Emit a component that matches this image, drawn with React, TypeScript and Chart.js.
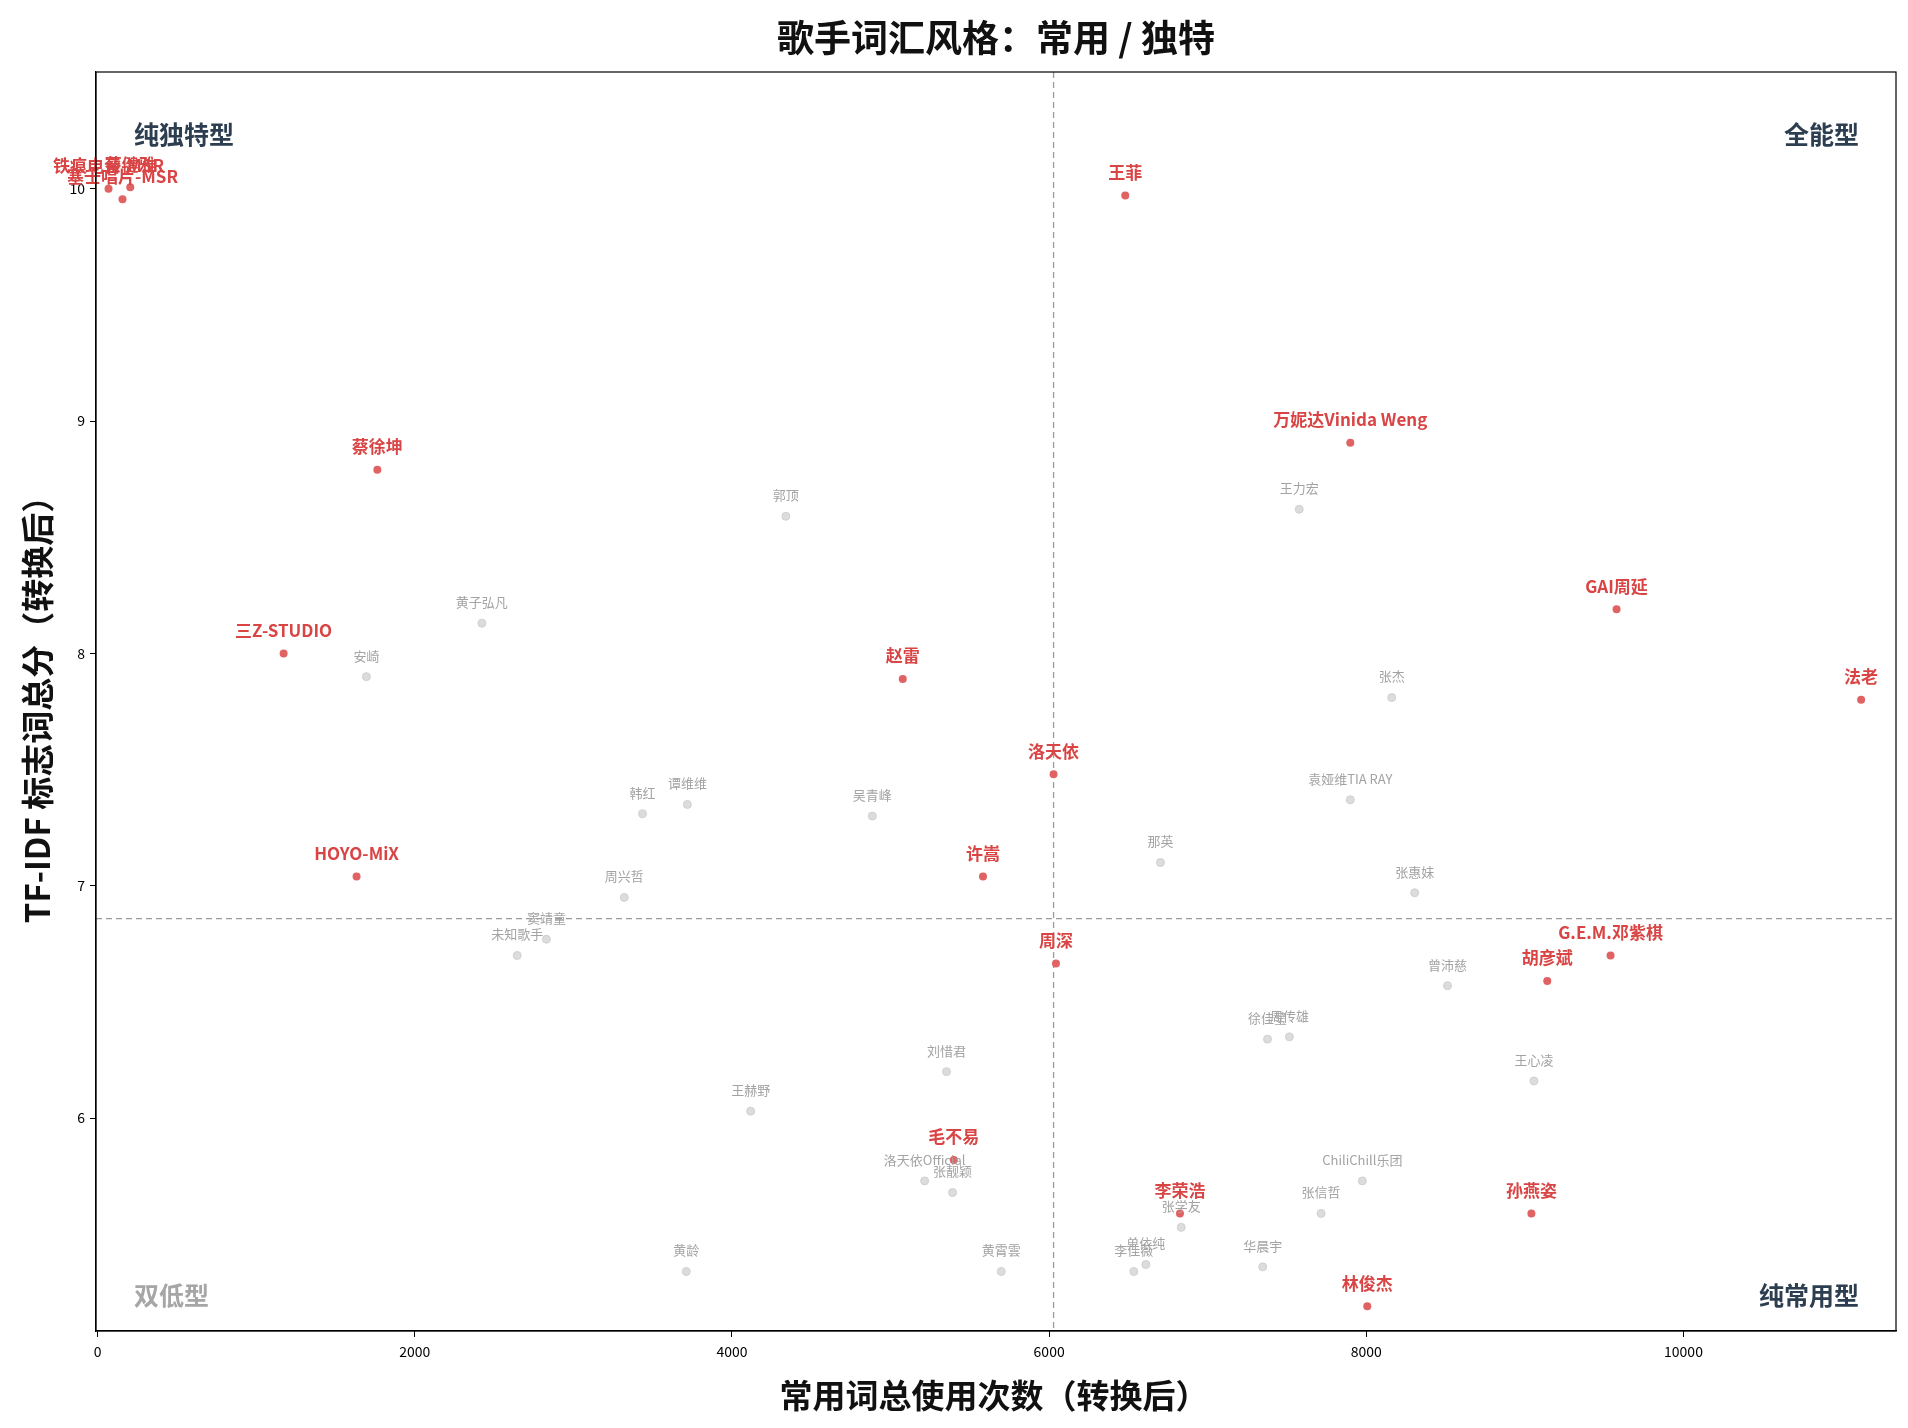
import React, { useEffect, useRef } from "react";
import { Chart, registerables } from "chart.js";

Chart.register(...registerables);

const TITLE = "歌手词汇风格：常用 / 独特";
const X_TITLE = "常用词总使用次数（转换后）";
const Y_TITLE = "TF-IDF 标志词总分（转换后）";

const xTicks = [0, 2000, 4000, 6000, 8000, 10000];
const yTicks = [6, 7, 8, 9, 10];

const X_MIN = -10;
const X_MAX = 11340;
const Y_MIN = 5.084;
const Y_MAX = 10.502;

const X_SPLIT = 6028;
const Y_SPLIT = 6.859;

// highlighted singers
const redNames = [
  "铁痕电音-MSR", "蔡健雅", "塞壬唱片-MSR", "王菲", "万妮达Vinida Weng", "蔡徐坤",
  "GAI周延", "三Z-STUDIO", "赵雷", "法老", "洛天依", "HOYO-MiX", "许嵩", "周深",
  "G.E.M.邓紫棋", "胡彦斌", "毛不易", "李荣浩", "孙燕姿", "林俊杰",
];
const redX = [
  69, 206, 157, 6480, 7899, 1764,
  9578, 1173, 5077, 11120, 6028, 1633, 5583, 6043,
  9540, 9141, 5399, 6825, 9041, 8006,
];
const redY = [
  10.0, 10.006, 9.954, 9.97, 8.906, 8.79,
  8.19, 8.0, 7.89, 7.8, 7.48, 7.04, 7.04, 6.665,
  6.7, 6.59, 5.82, 5.59, 5.59, 5.19,
];

// other singers
const grayNames = [
  "郭顶", "王力宏", "黄子弘凡", "安崎", "张杰", "袁娅维TIA RAY", "韩红", "谭维维",
  "吴青峰", "那英", "周兴哲", "张惠妹", "窦靖童", "未知歌手", "曾沛慈", "徐佳莹",
  "周传雄", "刘惜君", "王心凌", "王赫野", "洛天依Official", "ChiliChill乐团", "张靓颖",
  "张信哲", "张学友", "黄龄", "黄霄雲", "单依纯", "李佳薇", "华晨宇",
];
const grayX = [
  4340, 7577, 2423, 1695, 8160, 7899, 3436, 3719,
  4885, 6702, 3321, 8305, 2830, 2646, 8512, 7377,
  7515, 5353, 9057, 4118, 5215, 7975, 5391,
  7715, 6833, 3712, 5698, 6610, 6534, 7347,
];
const grayY = [
  8.59, 8.62, 8.13, 7.9, 7.81, 7.37, 7.31, 7.35,
  7.3, 7.1, 6.95, 6.97, 6.77, 6.7, 6.57, 6.34,
  6.35, 6.2, 6.16, 6.03, 5.73, 5.73, 5.68,
  5.59, 5.53, 5.34, 5.34, 5.37, 5.34, 5.36,
];

const quadrantLabels = ["纯独特型", "全能型", "双低型", "纯常用型"];

const FONT = '"Noto Sans CJK SC", "Noto Sans", sans-serif';

export default function App() {
  const ref = useRef<HTMLCanvasElement | null>(null);

  useEffect(() => {
    document.body.style.margin = "0";
    const canvas = ref.current;
    if (!canvas) return;

    const labelPlugin = {
      id: "customDecor",
      beforeDatasetsDraw(chart: any) {
        const { ctx, chartArea, scales } = chart;
        const xs = scales.x;
        const ys = scales.y;
        ctx.save();
        ctx.beginPath();
        ctx.rect(chartArea.left, chartArea.top, chartArea.right - chartArea.left, chartArea.bottom - chartArea.top);
        ctx.clip();
        ctx.strokeStyle = "#9a9a9a";
        ctx.lineWidth = 1.3;
        ctx.setLineDash([6, 4]);
        const vx = xs.getPixelForValue(X_SPLIT);
        ctx.beginPath();
        ctx.moveTo(vx, chartArea.top);
        ctx.lineTo(vx, chartArea.bottom);
        ctx.stroke();
        const hy = ys.getPixelForValue(Y_SPLIT);
        ctx.beginPath();
        ctx.moveTo(chartArea.left, hy);
        ctx.lineTo(chartArea.right, hy);
        ctx.stroke();
        ctx.setLineDash([]);
        // quadrant labels
        ctx.font = `bold 25px ${FONT}`;
        ctx.textBaseline = "middle";
        ctx.fillStyle = "#2c3e50";
        ctx.textAlign = "left";
        ctx.fillText(quadrantLabels[0], chartArea.left + 38, chartArea.top + 62);
        ctx.textAlign = "right";
        ctx.fillText(quadrantLabels[1], chartArea.right - 37, chartArea.top + 62);
        ctx.fillText(quadrantLabels[3], chartArea.right - 37, chartArea.bottom - 36);
        ctx.textAlign = "left";
        ctx.fillStyle = "#a6a6a6";
        ctx.fillText(quadrantLabels[2], chartArea.left + 38, chartArea.bottom - 36);
        ctx.restore();
      },
      afterDatasetDraw(chart: any, args: any) {
        const { ctx } = chart;
        const meta = args.meta;
        const ds = chart.data.datasets[args.index];
        const names: string[] = ds.names;
        ctx.save();
        ctx.textAlign = "center";
        ctx.textBaseline = "middle";
        if (ds.isRed) {
          ctx.font = `bold 17px ${FONT}`;
          ctx.fillStyle = "#d94545";
        } else {
          ctx.font = `13px ${FONT}`;
          ctx.fillStyle = "#a3a3a3";
        }
        const off = ds.isRed ? 23 : 21;
        meta.data.forEach((el: any, i: number) => {
          ctx.fillText(names[i], el.x, el.y - off);
        });
        ctx.restore();
      },
      afterDraw(chart: any) {
        const { ctx, chartArea } = chart;
        ctx.save();
        ctx.strokeStyle = "#000";
        ctx.lineWidth = 1.2;
        ctx.strokeRect(chartArea.left, chartArea.top, chartArea.right - chartArea.left, chartArea.bottom - chartArea.top);
        ctx.fillStyle = "#111";
        ctx.textAlign = "center";
        ctx.textBaseline = "middle";
        ctx.font = `bold 37px ${FONT}`;
        ctx.fillText(TITLE, (chartArea.left + chartArea.right) / 2, 38);
        ctx.font = `bold 33px ${FONT}`;
        ctx.fillText(X_TITLE, (chartArea.left + chartArea.right) / 2 - 2, 1395);
        ctx.translate(37, (chartArea.top + chartArea.bottom) / 2);
        ctx.rotate(-Math.PI / 2);
        ctx.fillText(Y_TITLE, 0, 0);
        ctx.restore();
      },
    };

    const chart = new Chart(canvas, {
      type: "scatter",
      data: {
        datasets: [
          {
            label: "others",
            names: grayNames,
            isRed: false,
            data: grayX.map((x, i) => ({ x, y: grayY[i] })),
            backgroundColor: "#dcdcdc",
            borderColor: "#d0d0d0",
            borderWidth: 1,
            pointRadius: 4,
          } as any,
          {
            label: "highlight",
            names: redNames,
            isRed: true,
            data: redX.map((x, i) => ({ x, y: redY[i] })),
            backgroundColor: "#e06262",
            borderColor: "#e06262",
            borderWidth: 0,
            pointRadius: 4,
          } as any,
        ],
      },
      options: {
        responsive: false,
        animation: false,
        layout: { padding: { left: 0, top: 72, right: 12, bottom: 0 } },
        plugins: {
          legend: { display: false },
          tooltip: { enabled: false },
          title: { display: false },
        },
        scales: {
          x: {
            type: "linear",
            min: X_MIN,
            max: X_MAX,
            afterBuildTicks: (s: any) => {
              s.ticks = xTicks.map((v) => ({ value: v }));
            },
            afterFit: (s: any) => {
              s.height = 97;
            },
            grid: { drawOnChartArea: false, drawTicks: true, tickLength: 6, color: "#000" },
            border: { display: true, color: "#000", width: 1.2 },
            ticks: {
              color: "#000",
              font: { size: 14, family: FONT },
              padding: 6,
              maxRotation: 0,
              callback: (v: any) => String(v),
            },
          },
          y: {
            type: "linear",
            min: Y_MIN,
            max: Y_MAX,
            afterBuildTicks: (s: any) => {
              s.ticks = yTicks.map((v) => ({ value: v }));
            },
            afterFit: (s: any) => {
              s.width = 96;
            },
            grid: { drawOnChartArea: false, drawTicks: true, tickLength: 6, color: "#000" },
            border: { display: true, color: "#000", width: 1.2 },
            ticks: {
              color: "#000",
              font: { size: 14, family: FONT },
              padding: 5,
              callback: (v: any) => String(v),
            },
          },
        },
      } as any,
      plugins: [labelPlugin],
    });

    return () => chart.destroy();
  }, []);

  return <canvas ref={ref} width={1908} height={1428} style={{ display: "block" }} />;
}
